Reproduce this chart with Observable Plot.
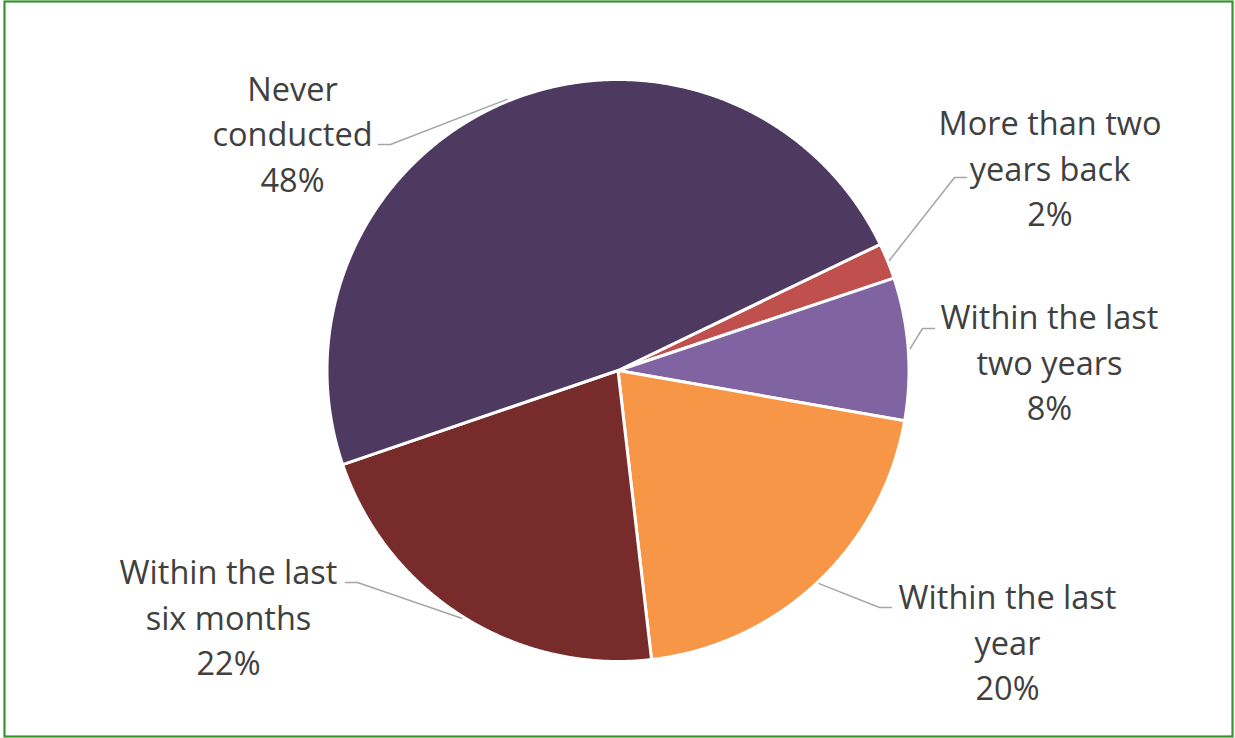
<!DOCTYPE html>
<html>
<head>
<meta charset="utf-8">
<script src="https://cdn.jsdelivr.net/npm/d3@7"></script>
<script src="https://cdn.jsdelivr.net/npm/@observablehq/plot@0.6"></script>
<style>
  html, body { margin: 0; padding: 0; background: #ffffff; }
  #chart svg { display: block; }
</style>
</head>
<body>
<div id="chart"></div>
<script>
// ---- Data ----
const categories = [
  "More than two years back",
  "Within the last two years",
  "Within the last year",
  "Within the last six months",
  "Never conducted"
];
const values = [2.0, 7.9, 20.4, 21.6, 48.1];            // percent of respondents
const labelText = [
  "More than two\nyears back",
  "Within the last\ntwo years",
  "Within the last\nyear",
  "Within the last\nsix months",
  "Never\nconducted"
];
const colors = ["#C0504D", "#8064A2", "#F79646", "#772B2A", "#4E3A61"];

// ---- Layout (not data) ----
const W = 1235, H = 738;
const cx = 617.5, cy = 370, R = 291;
const startDeg = 64.3;              // rotation of first slice (clockwise from 12 o'clock)
const FS = 32.5;
// label block centre (x, middle-line baseline) and leader elbow / end, in page pixels
const labelPos = [
  {tx: 1049.5, ty: 178, ex: 954, ey: 177, hx: 966},
  {tx: 1049,   ty: 372, ex: 922, ey: 328, hx: 934},
  {tx: 1007,   ty: 652, ex: 879, ey: 607, hx: 891},
  {tx: 228,    ty: 627, ex: 357, ey: 582, hx: 345},
  {tx: 292,    ty: 143.5, ex: 390, ey: 144, hx: 378}
];

// ---- Geometry from data ----
const total = d3.sum(values);
const rad = d => d * Math.PI / 180;
let acc = 0;
const slices = values.map((v, i) => {
  const a0 = startDeg + acc / total * 360;
  acc += v;
  const a1 = startDeg + acc / total * 360;
  return {cat: categories[i], a0, a1, mid: (a0 + a1) / 2, v};
});
const piePts = [];
slices.forEach(s => {
  piePts.push({cat: s.cat, x: 0, y: 0});
  const n = Math.max(4, Math.ceil((s.a1 - s.a0) / 0.25));
  for (let k = 0; k <= n; k++) {
    const a = rad(s.a0 + (s.a1 - s.a0) * k / n);
    piePts.push({cat: s.cat, x: R * Math.sin(a), y: -R * Math.cos(a)});
  }
  piePts.push({cat: s.cat, x: 0, y: 0});
});

const leaderPts = [];
const labels = [];
slices.forEach((s, i) => {
  const L = labelPos[i];
  const a = rad(s.mid);
  leaderPts.push({k: i, x: (R + 2) * Math.sin(a), y: -(R + 2) * Math.cos(a)});
  leaderPts.push({k: i, x: L.ex - cx, y: L.ey - cy});
  leaderPts.push({k: i, x: L.hx - cx, y: L.ey - cy});
  labels.push({
    x: L.tx - cx,
    y: L.ty - cy,
    text: labelText[i] + "\n" + Math.round(s.v) + "%"
  });
});

const chart = Plot.plot({
  width: W,
  height: H,
  margin: 0,
  x: {domain: [-cx, W - cx], range: [0, W], axis: null},
  y: {domain: [-cy, H - cy], range: [0, H], axis: null},
  color: {domain: categories, range: colors},
  style: {background: "#ffffff"},
  marks: [
    Plot.line(piePts, {
      x: "x", y: "y", z: "cat", fill: "cat",
      stroke: "#ffffff", strokeWidth: 3, strokeLinejoin: "round", curve: "linear"
    }),
    Plot.line(leaderPts, {
      x: "x", y: "y", z: "k",
      stroke: "#A6A6A6", strokeWidth: 1.5, curve: "linear"
    }),
    Plot.text(labels, {
      x: "x", y: "y", text: "text",
      fontSize: FS, lineHeight: 45.5 / FS, lineAnchor: "middle",
      textAnchor: "middle", fill: "#404040", dy: -0.32 * FS - 2,
      fontFamily: "'Open Sans', Lato, sans-serif"
    }),
    Plot.frame({
      stroke: "#36952A", strokeWidth: 2.2,
      insetLeft: 4, insetTop: 1, insetRight: 3, insetBottom: 2
    })
  ]
});
document.getElementById("chart").appendChild(chart);
</script>
</body>
</html>
